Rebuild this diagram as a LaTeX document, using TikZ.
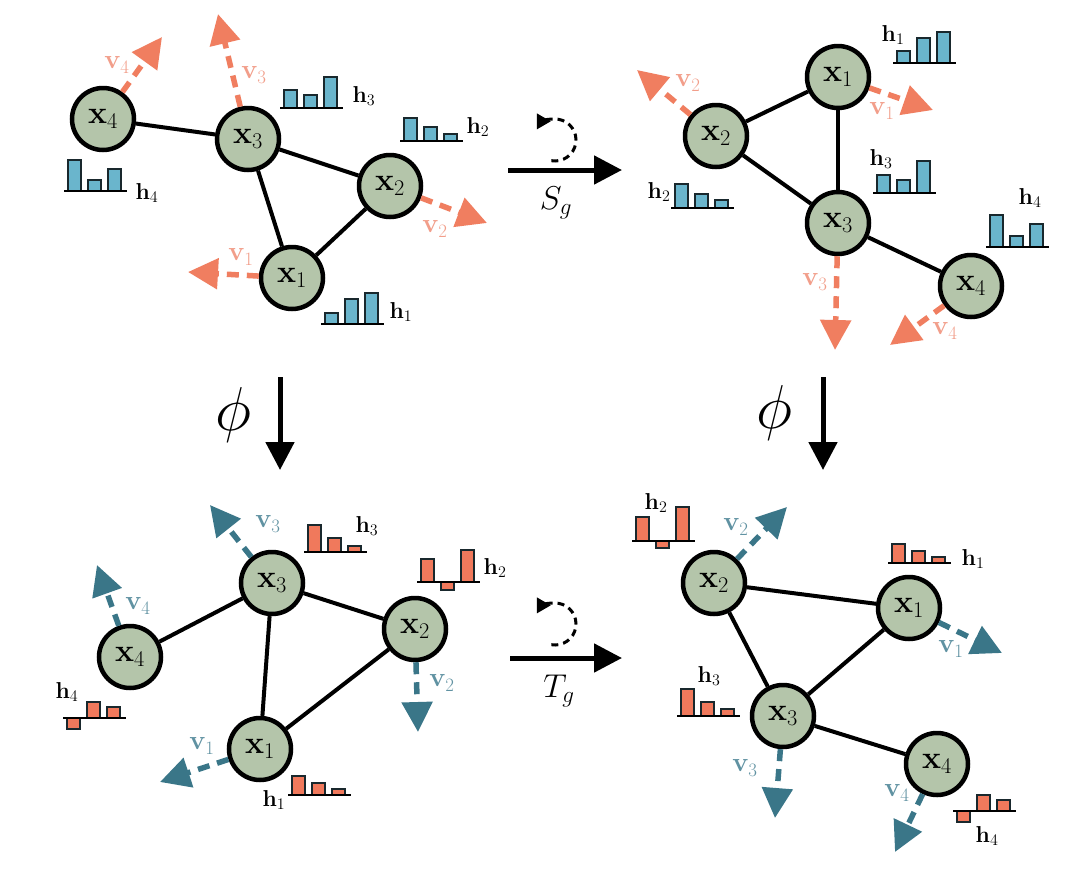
\RequirePackage{fix-cm}
\documentclass[tikz,border=0pt]{standalone}
\usetikzlibrary{arrows.meta}
\definecolor{nodefill}{RGB}{180,197,170}
\definecolor{vorange}{RGB}{240,126,96}
\definecolor{vorangel}{RGB}{242,158,138}
\definecolor{vteal}{RGB}{58,118,136}
\definecolor{vteall}{RGB}{96,146,162}
\definecolor{barblue}{RGB}{106,181,204}
\definecolor{barred}{RGB}{240,121,92}
\definecolor{barline}{RGB}{25,40,45}
\tikzset{
 gnode/.style={circle,draw=black,fill=nodefill,line width=4.5pt,minimum size=62pt,inner sep=0pt,font=\fontsize{32}{36}\selectfont},
 edge/.style={line width=4pt},
 vel/.style={line width=5.5pt,dash pattern=on 12pt off 8pt,-{Triangle[length=30pt,width=30pt]}},
 velo/.style={vel,draw=vorange},
 velt/.style={vel,draw=vteal},
 vlabo/.style={font=\fontsize{27}{30}\selectfont,inner sep=0pt,text=vorangel},
 vlabt/.style={font=\fontsize{27}{30}\selectfont,inner sep=0pt,text=vteall},
 hlab/.style={font=\fontsize{23}{26}\selectfont,inner sep=0pt},
 bar/.style={draw=barline,line width=1.7pt},
 base/.style={draw=black,line width=2.7pt},
 mainarrow/.style={line width=5pt,-{Triangle[length=28pt,width=28pt]}},
 rot/.style={line width=3pt,dash pattern=on 7pt off 5pt,-{Triangle[length=14pt,width=15pt]}},
}
\newcommand{\histo}[6]{%
  \draw[bar,fill=#6] (#1+4,-#2) rectangle ++(13,#3);
  \draw[bar,fill=#6] (#1+24,-#2) rectangle ++(13,#4);
  \draw[bar,fill=#6] (#1+44,-#2) rectangle ++(13,#5);
  \draw[base] (#1,-#2) -- ++(63,0);
}
\begin{document}
\begin{tikzpicture}[x=1pt,y=1pt]
\useasboundingbox[fill=white] (0,0) rectangle (1080,-876);

% ===== top-left graph =====
\node[gnode] (a1) at (292,-278) {$\mathbf{x}_1$};
\node[gnode] (a2) at (390,-186) {$\mathbf{x}_2$};
\node[gnode] (a3) at (248,-139) {$\mathbf{x}_3$};
\node[gnode] (a4) at (103,-119) {$\mathbf{x}_4$};
\draw[edge] (a4) -- (a3);
\draw[edge] (a3) -- (a2);
\draw[edge] (a3) -- (a1);
\draw[edge] (a2) -- (a1);
\coordinate (a1v) at (188,-272);
\coordinate (a2v) at (487,-223);
\coordinate (a3v) at (218,-14);
\coordinate (a4v) at (162,-37);
\draw[velo] (a1) -- (a1v);
\draw[velo] (a2) -- (a2v);
\draw[velo] (a3) -- (a3v);
\draw[velo] (a4) -- (a4v);
\node[vlabo] (a1vl) at (241,-257) {$\mathbf{v}_1$};
\node[vlabo] (a2vl) at (435,-229) {$\mathbf{v}_2$};
\node[vlabo] (a3vl) at (254,-75) {$\mathbf{v}_3$};
\node[vlabo] (a4vl) at (117,-65) {$\mathbf{v}_4$};
\histo{321}{324}{11}{25}{31}{barblue}
\histo{400}{141}{23}{14}{7}{barblue}
\histo{280}{108}{18}{13}{31}{barblue}
\histo{64}{191}{31}{11}{22}{barblue}
\node[hlab] (a1h) at (401,-312) {$\mathbf{h}_1$};
\node[hlab] (a2h) at (478,-127) {$\mathbf{h}_2$};
\node[hlab] (a3h) at (364,-96) {$\mathbf{h}_3$};
\node[hlab] (a4h) at (147,-193) {$\mathbf{h}_4$};

% ===== top-right graph =====
\node[gnode] (b1) at (838,-77) {$\mathbf{x}_1$};
\node[gnode] (b2) at (716,-136) {$\mathbf{x}_2$};
\node[gnode] (b3) at (838,-223) {$\mathbf{x}_3$};
\node[gnode] (b4) at (971,-286) {$\mathbf{x}_4$};
\draw[edge] (b2) -- (b1);
\draw[edge] (b2) -- (b3);
\draw[edge] (b1) -- (b3);
\draw[edge] (b3) -- (b4);
\coordinate (b1v) at (933,-110);
\coordinate (b2v) at (637,-70);
\coordinate (b3v) at (835,-350);
\coordinate (b4v) at (890,-345);
\draw[velo] (b1) -- (b1v);
\draw[velo] (b2) -- (b2v);
\draw[velo] (b3) -- (b3v);
\draw[velo] (b4) -- (b4v);
\node[vlabo] (b1vl) at (882,-111) {$\mathbf{v}_1$};
\node[vlabo] (b2vl) at (688,-83) {$\mathbf{v}_2$};
\node[vlabo] (b3vl) at (815,-282) {$\mathbf{v}_3$};
\node[vlabo] (b4vl) at (945,-331) {$\mathbf{v}_4$};
\histo{893}{63}{12}{25}{31}{barblue}
\histo{671}{208}{24}{14}{8}{barblue}
\histo{873}{193}{18}{13}{32}{barblue}
\histo{986}{247}{32}{11}{23}{barblue}
\node[hlab] (b1h) at (893,-35) {$\mathbf{h}_1$};
\node[hlab] (b2h) at (659,-192) {$\mathbf{h}_2$};
\node[hlab] (b3h) at (881,-159) {$\mathbf{h}_3$};
\node[hlab] (b4h) at (1030,-198) {$\mathbf{h}_4$};

% ===== bottom-left graph =====
\node[gnode] (c1) at (260,-749) {$\mathbf{x}_1$};
\node[gnode] (c2) at (415,-629) {$\mathbf{x}_2$};
\node[gnode] (c3) at (272,-583) {$\mathbf{x}_3$};
\node[gnode] (c4) at (130,-657) {$\mathbf{x}_4$};
\draw[edge] (c4) -- (c3);
\draw[edge] (c3) -- (c2);
\draw[edge] (c3) -- (c1);
\draw[edge] (c2) -- (c1);
\coordinate (c1v) at (160,-782);
\coordinate (c2v) at (418,-732);
\coordinate (c3v) at (210,-505);
\coordinate (c4v) at (97,-565);
\draw[velt] (c1) -- (c1v);
\draw[velt] (c2) -- (c2v);
\draw[velt] (c3) -- (c3v);
\draw[velt] (c4) -- (c4v);
\node[vlabt] (c1vl) at (202,-746) {$\mathbf{v}_1$};
\node[vlabt] (c2vl) at (442,-683) {$\mathbf{v}_2$};
\node[vlabt] (c3vl) at (268,-524) {$\mathbf{v}_3$};
\node[vlabt] (c4vl) at (138,-606) {$\mathbf{v}_4$};
\histo{288}{795}{19}{12}{6}{barred}
\histo{417}{582}{23}{-8}{32}{barred}
\histo{304}{552}{27}{14}{6}{barred}
\histo{63}{718}{-11}{16}{11}{barred}
\node[hlab] (c1h) at (274,-800) {$\mathbf{h}_1$};
\node[hlab] (c2h) at (495,-568) {$\mathbf{h}_2$};
\node[hlab] (c3h) at (367,-526) {$\mathbf{h}_3$};
\node[hlab] (c4h) at (67,-692) {$\mathbf{h}_4$};

% ===== bottom-right graph =====
\node[gnode] (d1) at (909,-608) {$\mathbf{x}_1$};
\node[gnode] (d2) at (714,-583) {$\mathbf{x}_2$};
\node[gnode] (d3) at (783,-716) {$\mathbf{x}_3$};
\node[gnode] (d4) at (937,-764) {$\mathbf{x}_4$};
\draw[edge] (d2) -- (d1);
\draw[edge] (d2) -- (d3);
\draw[edge] (d1) -- (d3);
\draw[edge] (d3) -- (d4);
\coordinate (d1v) at (1002,-653);
\coordinate (d2v) at (787,-507);
\coordinate (d3v) at (775,-818);
\coordinate (d4v) at (895,-852);
\draw[velt] (d1) -- (d1v);
\draw[velt] (d2) -- (d2v);
\draw[velt] (d3) -- (d3v);
\draw[velt] (d4) -- (d4v);
\node[vlabt] (d1vl) at (951,-649) {$\mathbf{v}_1$};
\node[vlabt] (d2vl) at (736,-527) {$\mathbf{v}_2$};
\node[vlabt] (d3vl) at (745,-768) {$\mathbf{v}_3$};
\node[vlabt] (d4vl) at (897,-793) {$\mathbf{v}_4$};
\histo{888}{563}{19}{12}{6}{barred}
\histo{632}{541}{24}{-7}{34}{barred}
\histo{677}{716}{27}{14}{7}{barred}
\histo{953}{811}{-11}{16}{11}{barred}
\node[hlab] (d1h) at (973,-559) {$\mathbf{h}_1$};
\node[hlab] (d2h) at (656,-503) {$\mathbf{h}_2$};
\node[hlab] (d3h) at (709,-676) {$\mathbf{h}_3$};
\node[hlab] (d4h) at (987,-836) {$\mathbf{h}_4$};

% ===== transformation arrows =====
\coordinate (sgA) at (508,-170);
\coordinate (sgB) at (622,-170);
\draw[mainarrow] (sgA) -- (sgB);
\node[font=\fontsize{33}{38}\selectfont] (sgl) at (556,-203) {$S_g$};
\draw[rot] (555,-140) ++(-100:21pt) arc[start angle=-100,end angle=150,radius=21pt];

\coordinate (tgA) at (510,-658);
\coordinate (tgB) at (622,-658);
\draw[mainarrow] (tgA) -- (tgB);
\node[font=\fontsize{33}{38}\selectfont] (tgl) at (559,-691) {$T_g$};
\draw[rot] (555,-624) ++(-100:21pt) arc[start angle=-100,end angle=150,radius=21pt];

\coordinate (phLA) at (280,-377);
\coordinate (phLB) at (280,-470);
\draw[mainarrow] (phLA) -- (phLB);
\node[font=\fontsize{62}{68}\selectfont] (phl) at (233,-415) {$\phi$};
\coordinate (phRA) at (823,-377);
\coordinate (phRB) at (823,-470);
\draw[mainarrow] (phRA) -- (phRB);
\node[font=\fontsize{62}{68}\selectfont] (phr) at (774,-413) {$\phi$};
\end{tikzpicture}
\end{document}
